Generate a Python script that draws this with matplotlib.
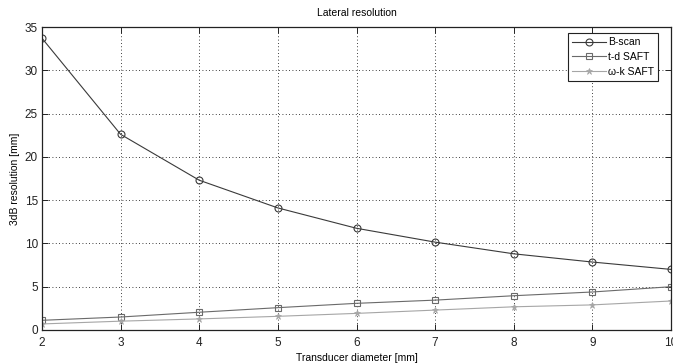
import matplotlib
matplotlib.use("Agg")
import matplotlib.pyplot as plt

plt.rcParams['font.family'] = ['Liberation Sans', 'DejaVu Sans']

diameter = [2, 3, 4, 5, 6, 7, 8, 9, 10]
bscan = [33.7, 22.6, 17.3, 14.1, 11.75, 10.15, 8.8, 7.85, 7.0]
td_saft = [1.12, 1.5, 2.05, 2.58, 3.08, 3.45, 3.96, 4.39, 5.0]
wk_saft = [0.7, 1.02, 1.28, 1.58, 1.92, 2.3, 2.68, 2.9, 3.35]

x_ticks = [2, 3, 4, 5, 6, 7, 8, 9, 10]
y_ticks = [0, 5, 10, 15, 20, 25, 30, 35]

fig = plt.figure(figsize=(6.73, 3.64), dpi=100)
ax = fig.add_axes([42 / 673, 1 - 330 / 364, (671 - 42) / 673, (330 - 27) / 364])

ax.plot(diameter, bscan, color='#3a3a3a', lw=0.8, marker='o', ms=5,
        mfc='none', mec='#3a3a3a', mew=0.8, label='B-scan')
ax.plot(diameter, td_saft, color='#6a6a6a', lw=0.8, marker='s', ms=5,
        mfc='none', mec='#6a6a6a', mew=0.8, label='t-d SAFT')
ax.plot(diameter, wk_saft, color='#a6a6a6', lw=0.8, marker='*', ms=5,
        mfc='#a6a6a6', mec='#a6a6a6', mew=0.5, label='\u03c9-k SAFT')

ax.set_xlim(2, 10)
ax.set_ylim(0, 35)
ax.set_xticks(x_ticks)
ax.set_yticks(y_ticks)
ax.grid(True, linestyle=(0, (1, 3)), color='black', lw=0.6)
ax.tick_params(direction='in', top=True, right=True, labelsize=8.5, length=4,
               width=0.7, colors='#222222')
ax.tick_params(axis='x', pad=5)
ax.tick_params(axis='y', pad=3)
for s in ax.spines.values():
    s.set_linewidth(0.9)
    s.set_color('#222222')

ax.set_title('Lateral resolution', fontsize=7.5, pad=8)
ax.set_xlabel('Transducer diameter [mm]', fontsize=7.5, labelpad=3)
ax.set_ylabel('3dB resolution [mm]', fontsize=7.5, labelpad=3)

leg = ax.legend(loc='upper right', bbox_to_anchor=(658 / 673, 1 - 33 / 364),
                bbox_transform=fig.transFigure, fontsize=7.5, handlelength=3.2,
                fancybox=False, framealpha=1, edgecolor='#222222',
                borderpad=0.4, labelspacing=0.45, handletextpad=0.2,
                borderaxespad=0)
leg.get_frame().set_linewidth(0.8)

fig.savefig('out.png', dpi=100)
